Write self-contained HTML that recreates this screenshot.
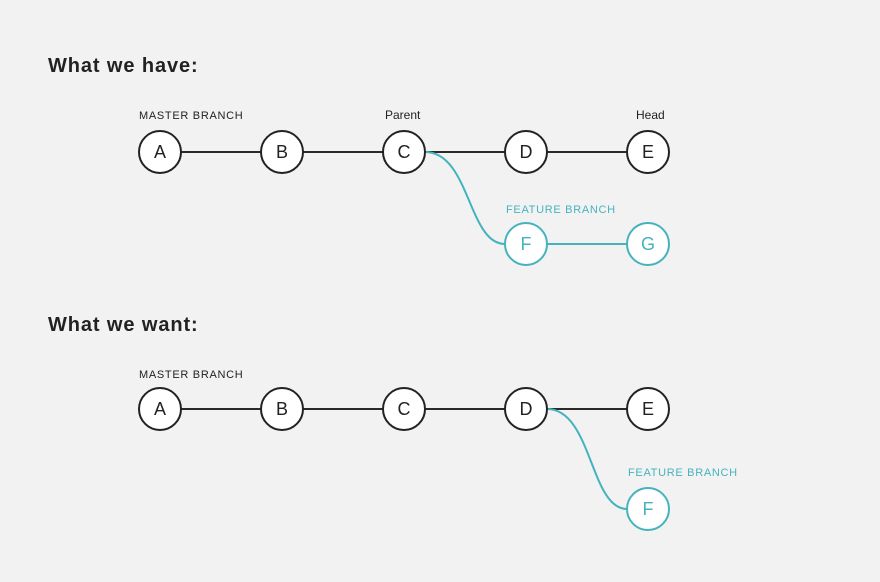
<!DOCTYPE html>
<html><head><meta charset="utf-8"><style>
html,body{margin:0;padding:0;background:#f2f2f2;}
svg{display:block;}
text{font-family:"Liberation Sans","DejaVu Sans",sans-serif;}
</style></head><body>
<svg width="880" height="582" viewBox="0 0 880 582" xmlns="http://www.w3.org/2000/svg">
<rect width="880" height="582" fill="#f2f2f2"/>
<g fill="#222">
<text x="48" y="72" font-size="20" font-weight="bold" letter-spacing="0.9">What we have:</text>
<text x="48" y="331" font-size="20" font-weight="bold" letter-spacing="0.9">What we want:</text>
<g font-size="11" letter-spacing="0.7">
<text x="139" y="119">MASTER BRANCH</text>
<text x="139" y="378">MASTER BRANCH</text>
</g>
<g font-size="12">
<text x="385" y="119">Parent</text>
<text x="636" y="119">Head</text>
</g>
</g>
<g font-size="11" letter-spacing="0.7" fill="#45b3bd">
<text x="506" y="213">FEATURE BRANCH</text>
<text x="628" y="476">FEATURE BRANCH</text>
</g>
<g stroke="#2a2a2a" stroke-width="2" fill="none">
<line x1="160" y1="152" x2="648" y2="152"/>
<line x1="160" y1="409" x2="648" y2="409"/>
</g>
<g stroke="#45b3bd" stroke-width="2" fill="none">
<path d="M425,152 C470,152 468,244 505,244"/>
<line x1="526" y1="244" x2="648" y2="244"/>
<path d="M547,409 C592,409 590,509 627,509"/>
</g>
<g stroke="#222" stroke-width="2" fill="#fff">
<circle cx="160" cy="152" r="21"/><circle cx="282" cy="152" r="21"/><circle cx="404" cy="152" r="21"/><circle cx="526" cy="152" r="21"/><circle cx="648" cy="152" r="21"/>
<circle cx="160" cy="409" r="21"/><circle cx="282" cy="409" r="21"/><circle cx="404" cy="409" r="21"/><circle cx="526" cy="409" r="21"/><circle cx="648" cy="409" r="21"/>
</g>
<g stroke="#45b3bd" stroke-width="2" fill="#fff">
<circle cx="526" cy="244" r="21"/><circle cx="648" cy="244" r="21"/><circle cx="648" cy="509" r="21"/>
</g>
<g font-size="18" text-anchor="middle" fill="#222">
<text x="160" y="158">A</text><text x="282" y="158">B</text><text x="404" y="158">C</text><text x="526" y="158">D</text><text x="648" y="158">E</text>
<text x="160" y="415">A</text><text x="282" y="415">B</text><text x="404" y="415">C</text><text x="526" y="415">D</text><text x="648" y="415">E</text>
</g>
<g font-size="18" text-anchor="middle" fill="#45b3bd">
<text x="526" y="250">F</text><text x="648" y="250">G</text><text x="648" y="515">F</text>
</g>
</svg>
</body></html>
